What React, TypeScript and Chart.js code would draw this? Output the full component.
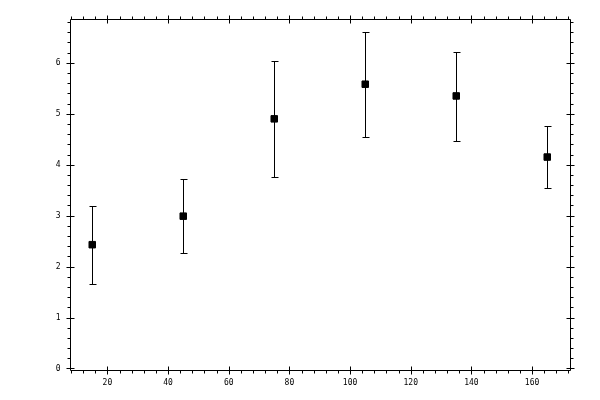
import { useEffect, useRef } from 'react'
import { Chart, registerables } from 'chart.js'
import type { Plugin } from 'chart.js'

Chart.register(...registerables)

const X_VALUES = [15, 45, 75, 105, 135, 165]
const Y_MEAN   = [2.43, 2.99, 4.9, 5.58, 5.35, 4.15]
const Y_UPPER  = [3.19, 3.71, 6.03, 6.6, 6.22, 4.76]
const Y_LOWER  = [1.66, 2.27, 3.76, 4.54, 4.46, 3.54]

const X_TICKS = [20, 40, 60, 80, 100, 120, 140, 160]
const Y_TICKS = [0, 1, 2, 3, 4, 5, 6]
const X_MINOR_STEP = 4
const Y_MINOR_STEP = 0.2

const X_MIN = 7.5
const X_MAX = 172.5
const Y_MIN = -0.02
const Y_MAX = 6.86

const crisp = (v: number) => Math.round(v) + 0.5

function minorValues(min: number, max: number, step: number) {
  const out: number[] = []
  const start = Math.ceil(min / step - 1e-9)
  for (let i = start; i * step <= max + 1e-9; i++) out.push(+(i * step).toFixed(6))
  return out
}

// error bars under the markers
const errorBars: Plugin<'scatter'> = {
  id: 'errorBars',
  beforeDatasetsDraw(chart) {
    const { ctx } = chart
    const xs = chart.scales.x
    const ys = chart.scales.y
    ctx.save()
    ctx.strokeStyle = '#000'
    ctx.lineWidth = 1
    X_VALUES.forEach((xv, i) => {
      const x = crisp(xs.getPixelForValue(xv))
      const top = Math.round(ys.getPixelForValue(Y_UPPER[i])) + 0.5
      const bot = Math.round(ys.getPixelForValue(Y_LOWER[i])) + 0.5
      ctx.beginPath()
      ctx.moveTo(x, top)
      ctx.lineTo(x, bot)
      ctx.moveTo(x - 3, top)
      ctx.lineTo(x + 4, top)
      ctx.moveTo(x - 3, bot)
      ctx.lineTo(x + 4, bot)
      ctx.stroke()
    })
    ctx.restore()
  },
}

// box frame with major ticks across the line and minor ticks outside
const frame: Plugin<'scatter'> = {
  id: 'frame',
  afterDraw(chart) {
    const { ctx, chartArea } = chart
    const xs = chart.scales.x
    const ys = chart.scales.y
    const l = crisp(chartArea.left)
    const r = crisp(chartArea.right)
    const t = crisp(chartArea.top)
    const b = crisp(chartArea.bottom)
    ctx.save()
    ctx.strokeStyle = '#000'
    ctx.lineWidth = 1
    ctx.beginPath()
    ctx.rect(l, t, r - l, b - t)

    for (const v of minorValues(X_MIN, X_MAX, X_MINOR_STEP)) {
      const x = crisp(xs.getPixelForValue(v))
      ctx.moveTo(x, b); ctx.lineTo(x, b + 3)
      ctx.moveTo(x, t); ctx.lineTo(x, t - 3)
    }
    for (const v of minorValues(Math.max(Y_MIN, 0), Y_MAX, Y_MINOR_STEP)) {
      const y = crisp(ys.getPixelForValue(v))
      ctx.moveTo(l, y); ctx.lineTo(l - 3, y)
      ctx.moveTo(r, y); ctx.lineTo(r + 3, y)
    }
    for (const v of X_TICKS) {
      const x = crisp(xs.getPixelForValue(v))
      ctx.moveTo(x, b - 4); ctx.lineTo(x, b + 4)
      ctx.moveTo(x, t - 4); ctx.lineTo(x, t + 4)
    }
    for (const v of Y_TICKS) {
      const y = crisp(ys.getPixelForValue(v))
      ctx.moveTo(l - 4, y); ctx.lineTo(l + 4, y)
      ctx.moveTo(r - 4, y); ctx.lineTo(r + 4, y)
    }
    ctx.stroke()
    ctx.restore()
  },
}

export default function App() {
  const canvasRef = useRef<HTMLCanvasElement>(null)

  useEffect(() => {
    document.body.style.margin = '0'
    if (!canvasRef.current) return
    const chart = new Chart(canvasRef.current, {
      type: 'scatter',
      data: {
        datasets: [{
          data: X_VALUES.map((x, i) => ({ x, y: Y_MEAN[i] })),
          pointStyle: 'rect',
          pointRadius: 4.6,
          pointBackgroundColor: '#000',
          pointBorderColor: '#000',
          pointBorderWidth: 1,
        }],
      },
      options: {
        animation: false,
        responsive: false,
        devicePixelRatio: 1,
        layout: { padding: { top: 19, right: 30, left: 0, bottom: 0 } },
        plugins: { legend: { display: false }, tooltip: { enabled: false } },
        scales: {
          x: {
            type: 'linear',
            min: X_MIN,
            max: X_MAX,
            border: { display: false },
            grid: { display: false, drawTicks: false },
            afterBuildTicks: (s) => { s.ticks = X_TICKS.map((value) => ({ value })) },
            afterFit: (s) => { s.height = 30.5 },
            ticks: {
              color: '#000',
              padding: 9,
              maxRotation: 0,
              autoSkip: false,
              font: { family: 'DejaVu Sans Mono', size: 8 },
            },
          },
          y: {
            type: 'linear',
            min: Y_MIN,
            max: Y_MAX,
            border: { display: false },
            grid: { display: false, drawTicks: false },
            afterBuildTicks: (s) => { s.ticks = Y_TICKS.map((value) => ({ value })) },
            afterFit: (s) => { s.width = 69.5 },
            ticks: {
              color: '#000',
              padding: 9,
              autoSkip: false,
              font: { family: 'DejaVu Sans Mono', size: 8 },
            },
          },
        },
      },
      plugins: [errorBars, frame],
    })
    return () => chart.destroy()
  }, [])

  return (
    <div style={{ width: 600, height: 400, background: '#fff' }}>
      <canvas ref={canvasRef} width={600} height={400} />
    </div>
  )
}
